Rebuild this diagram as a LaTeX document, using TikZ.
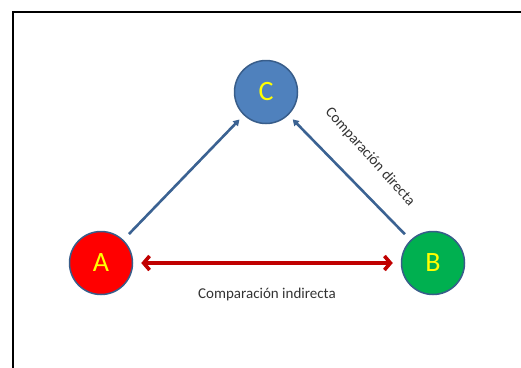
\documentclass[tikz,border=0pt]{standalone}
\usepackage{fontspec}
\setmainfont{Carlito}
\usetikzlibrary{arrows.meta}
\definecolor{cblue}{RGB}{79,129,189}
\definecolor{cedge}{RGB}{56,93,138}
\definecolor{cgreen}{RGB}{0,176,80}
\definecolor{cred}{RGB}{255,0,0}
\definecolor{cdark}{RGB}{192,0,0}
\definecolor{cyel}{RGB}{255,255,0}
\tikzset{
	vertex/.style={circle, draw=cedge, line width=1.5pt, minimum size=63pt, inner sep=0pt,
		text=cyel, font=\fontsize{28}{30}\selectfont},
	direct/.style={line width=2.6pt, color=cedge!85!cblue, -{Triangle[length=6pt,width=7pt]},
		shorten <=8pt, shorten >=6pt},
	indirect/.style={line width=3.6pt, color=cdark, {Straight Barb[length=6pt,width=14pt]}-{Straight Barb[length=6pt,width=14pt]},
		shorten <=8pt, shorten >=8pt},
	lbl/.style={font=\fontsize{15}{17}\selectfont, text=black!80}
}

\begin{document}
\begin{tikzpicture}[x=1pt, y=-1pt]
			%%%%% START %%%%%
			\useasboundingbox (0, 0) rectangle (521, 367);
			\clip (0, 0) rectangle (521, 367);
			
			\draw[line width=1.8pt, color=black] (13, 12) rectangle (540, 390);
			
			\node[vertex, fill=cblue] (C) at (266, 92) {C};
			\node[vertex, fill=cred] (A) at (101, 263) {A};
			\node[vertex, fill=cgreen] (B) at (433, 263) {B};
			
			\draw[direct] (A) -- (C);
			\draw[direct] (B) -- (C);
			\draw[indirect] (A) -- (B);
			
			\node[lbl] (indir) at (267, 294) {Comparación indirecta};
			\node[lbl, rotate=-48] (dir) at (370, 157) {Comparación directa};
			
			%%%%% END %%%%%
\end{tikzpicture}
\end{document}
